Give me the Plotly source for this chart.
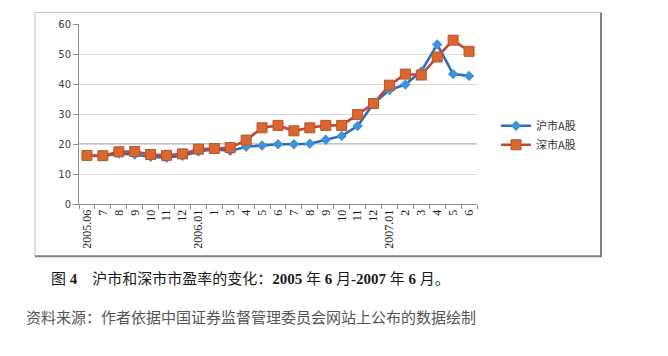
import plotly.graph_objects as go

months = ["2005-06", "2005-07", "2005-08", "2005-09", "2005-10", "2005-11", "2005-12",
          "2006-01", "2006-02", "2006-03", "2006-04", "2006-05", "2006-06", "2006-07",
          "2006-08", "2006-09", "2006-10", "2006-11", "2006-12", "2007-01", "2007-02",
          "2007-03", "2007-04", "2007-05", "2007-06"]
tick_labels = ["2005.06", "7", "8", "9", "10", "11", "12", "2006.01", "1", "3", "4", "5", "6",
               "7", "8", "9", "10", "11", "12", "2007.01", "2", "3", "4", "5", "6"]
sh_pe = [16.0, 16.0, 16.8, 16.5, 15.7, 15.4, 16.1, 17.5, 18.3, 17.7, 19.1, 19.5, 19.9,
         19.9, 20.1, 21.4, 22.7, 26.0, 33.5, 38.0, 39.8, 44.2, 53.2, 43.3, 42.7]
sz_pe = [16.2, 16.1, 17.4, 17.5, 16.5, 16.2, 16.7, 18.3, 18.5, 18.8, 21.3, 25.4, 26.2,
         24.4, 25.4, 26.2, 26.2, 29.8, 33.5, 39.6, 43.3, 43.0, 49.0, 54.6, 50.9]
y_ticks = [0, 10, 20, 30, 40, 50, 60]

W, H = 668, 356
OFF = 8  # page body margin
L, R, T, B = 79 - OFF, 477 - OFF, 18 - OFF, 204 - OFF


def px(x):
    return (x - OFF - L) / (R - L)


def py(y):
    return (B - (y - OFF)) / (B - T)


fig = go.Figure()
fig.add_trace(go.Scatter(
    x=months, y=sh_pe, name="沪市A股", mode="lines+markers",
    line=dict(color="#2F6DB8", width=2.6),
    marker=dict(symbol="diamond", size=8, color="#3F93D6", line=dict(width=0)),
))
fig.add_trace(go.Scatter(
    x=months, y=sz_pe, name="深市A股", mode="lines+markers",
    line=dict(color="#C0463A", width=2.6),
    marker=dict(symbol="square", size=10, color="#D9672F", line=dict(color="#B4552A", width=1)),
))

# darker horizontal line at 20
fig.add_shape(type="line", xref="paper", yref="y", x0=0, x1=1, y0=20, y1=20,
              line=dict(color="#8C8C8C", width=1.2), layer="below")

# outer chart frame
fig.add_shape(type="line", xref="paper", yref="paper", x0=px(35), x1=px(601), y0=py(6), y1=py(6),
              line=dict(color="#BFBFBF", width=1))
fig.add_shape(type="line", xref="paper", yref="paper", x0=px(35), x1=px(35), y0=py(6), y1=py(258),
              line=dict(color="#BFBFBF", width=1))
fig.add_shape(type="line", xref="paper", yref="paper", x0=px(601), x1=px(601), y0=py(6), y1=py(258),
              line=dict(color="#7F7F7F", width=2))
fig.add_shape(type="line", xref="paper", yref="paper", x0=px(35), x1=px(602), y0=py(258), y1=py(258),
              line=dict(color="#7F7F7F", width=2))

fig.add_annotation(
    xref="paper", yref="paper", x=px(250), y=py(282), xanchor="center", yanchor="middle",
    text="图 <b>4</b>　沪市和深市市盈率的变化：<b>2005</b> 年 <b>6</b> 月<b>-2007</b> 年 <b>6</b> 月。",
    showarrow=False, font=dict(family="Liberation Serif, Noto Sans CJK SC", size=15, color="#1A1A1A"))
fig.add_annotation(
    xref="paper", yref="paper", x=px(251), y=py(320), xanchor="center", yanchor="middle",
    text="资料来源：作者依据中国证券监督管理委员会网站上公布的数据绘制",
    showarrow=False, font=dict(family="Noto Sans CJK SC", size=15, color="#555555"))

fig.update_layout(
    width=W, height=H,
    margin=dict(l=L, r=W - R, t=T, b=H - B),
    paper_bgcolor="white", plot_bgcolor="white",
    showlegend=True,
    legend=dict(x=px(496), y=py(133), xanchor="left", yanchor="middle",
                font=dict(family="Noto Sans CJK SC", size=11, color="#333333"),
                bgcolor="rgba(0,0,0,0)", tracegroupgap=2, itemwidth=30),
    xaxis=dict(
        type="category", tickmode="array", tickvals=months, ticktext=tick_labels,
        tickangle=-90, tickson="boundaries", ticks="outside", ticklen=4,
        tickcolor="#8C8C8C", showline=True, linecolor="#8C8C8C", linewidth=1,
        showgrid=False, range=[-0.5, 24.5],
        tickfont=dict(family="Liberation Serif", size=12, color="#1A1A1A"),
    ),
    yaxis=dict(
        range=[0, 60], tickmode="array", tickvals=y_ticks, ticks="outside", ticklen=5,
        tickcolor="#8C8C8C", showline=True, linecolor="#8C8C8C", linewidth=1,
        showgrid=True, gridcolor="#D9D9D9", gridwidth=1, zeroline=False,
        tickfont=dict(family="DejaVu Sans", size=10, color="#404040"),
    ),
)

fig.write_html("out.html")
